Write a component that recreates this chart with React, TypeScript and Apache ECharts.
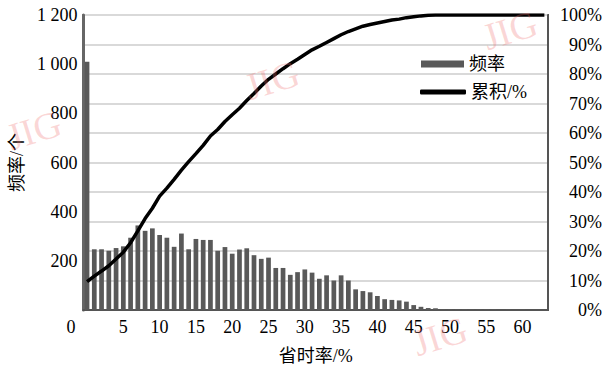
import React, { useEffect, useRef } from "react";
import * as echarts from "echarts";

const categories: string[] = Array.from({ length: 64 }, (_, i) => String(i));

const frequency: number[] = [
  1010, 247, 247, 241, 252, 259, 294, 344, 322, 332,
  305, 294, 257, 311, 247, 289, 285, 285, 241, 256,
  229, 246, 251, 223, 208, 213, 171, 171, 143, 154,
  165, 152, 127, 141, 120, 141, 120, 84, 77, 72,
  57, 44, 41, 39, 34, 20, 13, 8, 7, 3,
  3, 3, 3, 3, 3, 3, 3, 0, 3, 0,
  3, 0, 0, 0,
];

const cumulative: number[] = [
  9.6, 11.5, 13.2, 15.0, 17.3, 19.6, 22.8, 26.8, 31.0, 34.5,
  38.6, 41.3, 44.3, 47.4, 50.3, 53.0, 55.8, 59.0, 61.2, 63.9,
  66.2, 68.4, 71.0, 73.4, 75.9, 78.2, 80.0, 81.8, 83.5, 85.0,
  86.6, 88.2, 89.4, 90.7, 92.0, 93.3, 94.4, 95.3, 96.2, 96.8,
  97.3, 97.8, 98.3, 98.6, 99.1, 99.4, 99.7, 99.9, 100, 100,
  100, 100, 100, 100, 100, 100, 100, 100, 100, 100,
  100, 100, 100, 100,
];

const leftTicks = { min: 0, max: 1200, interval: 200 };
const rightTicks = { min: 0, max: 100, interval: 10 };

const FONT = '"Liberation Serif", "Noto Sans CJK SC", serif';

export default function App() {
  const ref = useRef<HTMLDivElement>(null);
  useEffect(() => {
    if (!ref.current) return;
    const chart = echarts.init(ref.current, undefined, { renderer: "svg" });
    const wm = (x: number, y: number) => ({
      type: "text",
      x,
      y,
      rotation: 0.3,
      silent: true,
      z: 100,
      style: {
        text: "JIG",
        fill: "rgba(240,110,110,0.28)",
        font: '38px "Liberation Serif"',
      },
    });
    const legendText = { fontSize: 18, fontFamily: FONT, color: "#000" };
    chart.setOption({
      animation: false,
      backgroundColor: "#ffffff",
      textStyle: { fontFamily: FONT },
      grid: {
        left: 81,
        right: 55,
        top: 15,
        bottom: 60,
        show: true,
        borderColor: "#555",
        borderWidth: 2,
      },
      legend: [
        {
          orient: "vertical",
          left: 416,
          top: 50,
          itemWidth: 43,
          itemHeight: 7,
          textStyle: legendText,
          data: [{ name: "频率", icon: "rect" }],
        },
        {
          orient: "vertical",
          left: 415,
          top: 78,
          itemWidth: 46,
          itemHeight: 5,
          itemGap: 5,
          textStyle: legendText,
          data: [{ name: "累积/%", icon: "roundRect" }],
        },
      ],
      xAxis: {
        type: "category",
        data: categories,
        boundaryGap: true,
        name: "省时率/%",
        nameLocation: "middle",
        nameGap: 37,
        nameTextStyle: { fontSize: 18, fontFamily: FONT, color: "#000" },
        axisTick: { show: false },
        axisLine: { lineStyle: { color: "#555", width: 2 } },
        axisLabel: {
          interval: (i: number) => i % 5 === 0,
          margin: 8,
          fontSize: 18,
          fontFamily: FONT,
          color: "#000",
          formatter: (v: string) => (v === "0" ? "{z|0}" : v),
          rich: {
            z: { padding: [0, 32, 0, 0], fontSize: 18, fontFamily: FONT, color: "#000" },
          },
        },
        splitLine: { show: false },
      },
      yAxis: [
        {
          type: "value",
          ...leftTicks,
          name: "频率/个",
          nameLocation: "middle",
          nameGap: 50,
          nameTextStyle: { fontSize: 18, fontFamily: FONT, color: "#000" },
          axisLine: { show: true, lineStyle: { color: "#666", width: 3 } },
          axisTick: { show: false },
          splitLine: { show: false },
          axisLabel: {
            showMinLabel: false,
            margin: 6,
            fontSize: 18,
            fontFamily: FONT,
            color: "#000",
            formatter: (v: number) =>
              v >= 1000
                ? `${Math.floor(v / 1000)} ${String(v % 1000).padStart(3, "0")}`
                : String(v),
          },
        },
        {
          type: "value",
          ...rightTicks,
          position: "right",
          axisLine: { show: true, lineStyle: { color: "#555", width: 2 } },
          axisTick: { show: false },
          splitLine: { show: true, lineStyle: { color: "#d9d9d9", width: 2 } },
          axisLabel: {
            margin: 54,
            align: "right",
            fontSize: 18,
            fontFamily: FONT,
            color: "#000",
            formatter: "{value}%",
          },
        },
      ],
      series: [
        {
          name: "频率",
          type: "bar",
          yAxisIndex: 0,
          data: frequency,
          barCategoryGap: "35%",
          itemStyle: { color: "#595959" },
        },
        {
          name: "累积/%",
          type: "line",
          yAxisIndex: 1,
          data: cumulative,
          symbol: "none",
          lineStyle: { color: "#000", width: 3.5 },
          itemStyle: { color: "#000" },
          z: 5,
        },
      ],
      graphic: [wm(2, 120), wm(240, 70), wm(478, 20), wm(408, 326)],
    });
    return () => chart.dispose();
  }, []);
  return (
    <div
      ref={ref}
      style={{ position: "fixed", left: 0, top: 0, width: 605, height: 370 }}
    />
  );
}
